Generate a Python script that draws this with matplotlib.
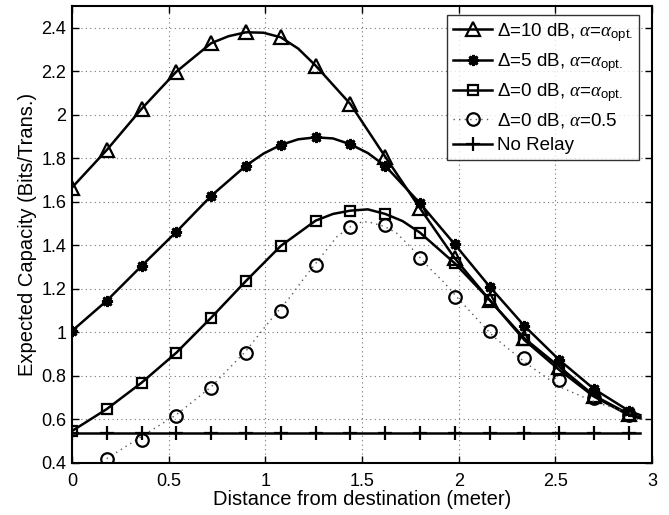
import numpy as np
import matplotlib
matplotlib.use("Agg")
import matplotlib.pyplot as plt

plt.rcParams['font.family'] = ['Liberation Sans', 'DejaVu Sans']
plt.rcParams['mathtext.fontset'] = 'custom'
plt.rcParams['mathtext.rm'] = 'Liberation Sans'
plt.rcParams['mathtext.it'] = 'Liberation Serif:italic'
plt.rcParams['mathtext.bf'] = 'Liberation Sans:bold'

# marker positions (distance from destination, meter)
x_mk = [0.0, 0.18, 0.36, 0.54, 0.72, 0.90, 1.08, 1.26, 1.44, 1.62, 1.80,
        1.98, 2.16, 2.34, 2.52, 2.70, 2.88]

cap_10db = [1.666, 1.839, 2.028, 2.199, 2.330, 2.380, 2.357, 2.227, 2.050,
            1.808, 1.571, 1.341, 1.149, 0.973, 0.843, 0.710, 0.625]
cap_5db = [1.007, 1.146, 1.306, 1.463, 1.628, 1.767, 1.862, 1.897, 1.865,
           1.766, 1.594, 1.405, 1.211, 1.030, 0.874, 0.740, 0.640]
cap_0db = [0.547, 0.648, 0.769, 0.907, 1.068, 1.237, 1.398, 1.514, 1.560,
           1.545, 1.459, 1.318, 1.150, 0.965, 0.828, 0.705, 0.620]

# extra points (between markers and line ends)
x_10db_extra = [0.81, 0.99, 1.17, 2.94]
cap_10db_extra = [2.362, 2.378, 2.305, 0.610]
x_5db_extra = [0.99, 1.17, 1.35, 1.53, 2.94]
cap_5db_extra = [1.822, 1.888, 1.892, 1.825, 0.620]
x_0db_extra = [1.35, 1.53, 1.71, 2.94]
cap_0db_extra = [1.545, 1.566, 1.512, 0.605]

# alpha = 0.5 markers (the one at x=0 lies below the axis)
x_half = x_mk[1:]
cap_half = [0.417, 0.506, 0.616, 0.746, 0.907, 1.099, 1.310, 1.484, 1.494,
            1.341, 1.165, 1.008, 0.881, 0.782, 0.697, 0.620]
# alpha = 0.5 dotted curve
x_half_line = [0.18, 0.36, 0.54, 0.72, 0.90, 1.02, 1.13, 1.20, 1.37, 1.44,
               1.50, 1.54, 1.62, 1.68, 1.75, 1.85, 1.92, 2.02, 2.18, 2.35,
               2.52, 2.70, 2.92]
cap_half_line = [0.420, 0.522, 0.622, 0.750, 0.915, 1.050, 1.165, 1.249,
                 1.440, 1.486, 1.509, 1.507, 1.486, 1.456, 1.394, 1.295,
                 1.234, 1.134, 0.981, 0.858, 0.751, 0.682, 0.620]

x_norelay = x_mk + [2.94]
cap_norelay = 0.537

labels = [r'Δ=10 dB, $\alpha$=$\alpha_{\mathrm{opt.}}$',
          r'Δ=5 dB, $\alpha$=$\alpha_{\mathrm{opt.}}$',
          r'Δ=0 dB, $\alpha$=$\alpha_{\mathrm{opt.}}$',
          r'Δ=0 dB, $\alpha$=0.5',
          'No Relay']

fig = plt.figure(figsize=(6.69, 5.15), dpi=100)
ax = fig.add_axes([0.1076, 0.101, 0.867, 0.887])

lw = 1.8
styles = [dict(marker='^', ms=10, mfc='none', mew=1.6),
          dict(marker=(8, 2, 0), ms=8, mew=2.0),
          dict(marker='s', ms=7.5, mfc='none', mew=1.6)]
curves = [(cap_10db, x_10db_extra, cap_10db_extra),
          (cap_5db, x_5db_extra, cap_5db_extra),
          (cap_0db, x_0db_extra, cap_0db_extra)]
handles = []
for (ymk, xex, yex), st, lab in zip(curves, styles, labels[:3]):
    pts = sorted(list(zip(x_mk, ymk)) + list(zip(xex, yex)))
    ax.plot([p[0] for p in pts], [p[1] for p in pts], '-', color='k', lw=lw)
    ax.plot(x_mk, ymk, linestyle='none', color='k', **st)
    h, = ax.plot([], [], '-', color='k', lw=lw, **st)
    handles.append(h)

dot_ls = (0, (1, 3))
ax.plot(x_half_line, cap_half_line, linestyle=dot_ls, color='0.35', lw=1.0)
ax.plot(x_half, cap_half, linestyle='none', color='k', marker='o', ms=9,
        mfc='none', mew=1.6)
h, = ax.plot([], [], linestyle=dot_ls, color='0.35', lw=1.0,
             marker='o', ms=9, mfc='none', mec='k', mew=1.6)
handles.append(h)

h, = ax.plot(x_norelay, [cap_norelay] * len(x_norelay), '-', color='k',
             lw=lw, marker='+', ms=10, mew=1.6,
             markevery=list(range(len(x_mk))))
handles.append(h)

leg = ax.legend(handles, labels, loc='upper right', fontsize=13.5,
                frameon=True, fancybox=False, edgecolor='k',
                handlelength=2.1, handletextpad=0.25, borderpad=0.32,
                labelspacing=0.38, borderaxespad=0.0,
                bbox_to_anchor=(0.978, 0.981))
leg.get_frame().set_linewidth(1.0)

ax.set_xlim(0, 3)
ax.set_ylim(0.4, 2.5)
ax.set_xticks([0, 0.5, 1, 1.5, 2, 2.5, 3])
ax.set_xticklabels(['0', '0.5', '1', '1.5', '2', '2.5', '3'])
yt = [0.4, 0.6, 0.8, 1.0, 1.2, 1.4, 1.6, 1.8, 2.0, 2.2, 2.4]
ax.set_yticks(yt)
ax.set_yticklabels(['0.4', '0.6', '0.8', '1', '1.2', '1.4', '1.6', '1.8',
                    '2', '2.2', '2.4'])
ax.grid(True, linestyle=dot_ls, color='0.45', lw=0.8)
ax.tick_params(direction='in', top=True, right=True, labelsize=13,
               length=5, width=1.0)
ax.tick_params(axis='x', pad=7)
ax.tick_params(axis='y', pad=4)
for s in ax.spines.values():
    s.set_linewidth(1.5)
ax.set_xlabel('Distance from destination (meter)', fontsize=14.5, labelpad=0)
ax.set_ylabel('Expected Capacity (Bits/Trans.)', fontsize=14.5, labelpad=3)

fig.savefig('out.png', dpi=100)
